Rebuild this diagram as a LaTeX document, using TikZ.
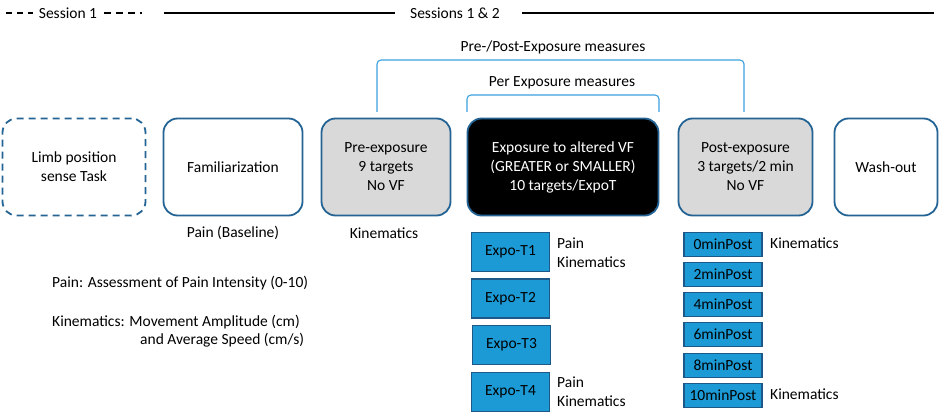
\documentclass[tikz,border=0pt]{standalone}
\usepackage{fontspec}
\setmainfont{Carlito}
\definecolor{boxblue}{RGB}{36,100,148}
\definecolor{brblue}{RGB}{60,160,222}
\definecolor{expofill}{RGB}{27,154,214}
\definecolor{expoborder}{RGB}{30,88,136}
\definecolor{lgray}{RGB}{217,217,217}
\tikzset{
  every node/.style={font=\fontsize{15.5}{19}\selectfont, inner sep=0pt},
  phase/.style={draw=boxblue, line width=1.8pt, rounded corners=14pt, align=center, minimum height=97pt},
  limbbox/.style={phase, dashed, dash pattern=on 7pt off 5pt},
  graybox/.style={phase, fill=lgray},
  blackbox/.style={phase, fill=black, text=white},
  expobox/.style={draw=expoborder, line width=1.3pt, fill=expofill, minimum width=78pt, minimum height=39pt},
  postbox/.style={draw=expoborder, line width=1.3pt, fill=expofill, minimum width=78pt, minimum height=24pt},
  bracket/.style={draw=brblue, line width=1.1pt, rounded corners=4pt},
  sessline/.style={line width=1.5pt},
  lbl/.style={anchor=west, align=left},
}
\begin{document}
\begin{tikzpicture}[x=1pt,y=-1pt]
\useasboundingbox (0,0) rectangle (941,414);
% top session labels
\node (s1) at (68,13) {Session 1};
\coordinate (s1a) at (6,13);
\coordinate (s1b) at (33,13);
\coordinate (s1c) at (104,13);
\coordinate (s1d) at (142,13);
\draw[sessline, dash pattern=on 6pt off 5pt] (s1a) -- (s1b);
\draw[sessline, dash pattern=on 7pt off 5pt] (s1c) -- (s1d);
\node (s12) at (455,13) {Sessions 1 \& 2};
\coordinate (s2a) at (164,13);
\coordinate (s2b) at (395,13);
\coordinate (s2c) at (522,13);
\coordinate (s2d) at (934,13);
\draw[sessline] (s2a) -- (s2b);
\draw[sessline] (s2c) -- (s2d);
% phase boxes
\node[limbbox, minimum width=143pt] (limb) at (74,167) {Limb position\\sense Task};
\node[phase, minimum width=139pt] (fam) at (233,167) {Familiarization};
\node[graybox, minimum width=129pt] (pre) at (386,167) {Pre-exposure\\9 targets\\No VF};
\node[blackbox, minimum width=191pt] (expo) at (563,167) {Exposure to altered VF\\(GREATER or SMALLER)\\10 targets/ExpoT};
\node[graybox, minimum width=134pt] (post) at (745.5,167) {Post-exposure\\3 targets/2 min\\No VF};
\node[phase, minimum width=103pt] (wash) at (886,167) {Wash-out};
% brackets
\coordinate (b1l) at (377,112);
\coordinate (b1r) at (744,112);
\coordinate (b1t) at (744,60);
\draw[bracket] (b1l) |- (b1t) -- (b1r);
\node (pp) at (553,47) {Pre-/Post-Exposure measures};
\coordinate (b2l) at (467,112);
\coordinate (b2r) at (659,112);
\coordinate (b2t) at (659,95);
\draw[bracket] (b2l) |- (b2t) -- (b2r);
\node (pe) at (562,83) {Per Exposure measures};
% under labels
\node (painb) at (233,233) {Pain (Baseline)};
\node (kinpre) at (384,233) {Kinematics};
% expo trials
\node[expobox] (t1) at (510.5,252) {Expo-T1};
\node[expobox] (t2) at (510.5,298.5) {Expo-T2};
\node[expobox] (t3) at (511.5,345) {Expo-T3};
\node[expobox] (t4) at (510.5,392) {Expo-T4};
\node[lbl] (t1l) at (557,252.5) {Pain\\Kinematics};
\node[lbl] (t4l) at (557,391.5) {Pain\\Kinematics};
% post measures
\node[postbox] (p0) at (723,244.5) {0minPost};
\node[postbox] (p2) at (723,274.5) {2minPost};
\node[postbox] (p4) at (723,304.5) {4minPost};
\node[postbox] (p6) at (723,334.5) {6minPost};
\node[postbox] (p8) at (723,365.5) {8minPost};
\node[postbox] (p10) at (723,395.5) {10minPost};
\node[lbl] (p0l) at (770,243) {Kinematics};
\node[lbl] (p10l) at (770,394) {Kinematics};
% legend
\node[lbl] (lg1) at (52,283) {Pain: Assessment of Pain Intensity (0-10)};
\node[lbl] (lg2) at (52,322) {Kinematics: Movement Amplitude (cm)};
\node[lbl] (lg3) at (140,340) {and Average Speed (cm/s)};
\end{tikzpicture}
\end{document}
